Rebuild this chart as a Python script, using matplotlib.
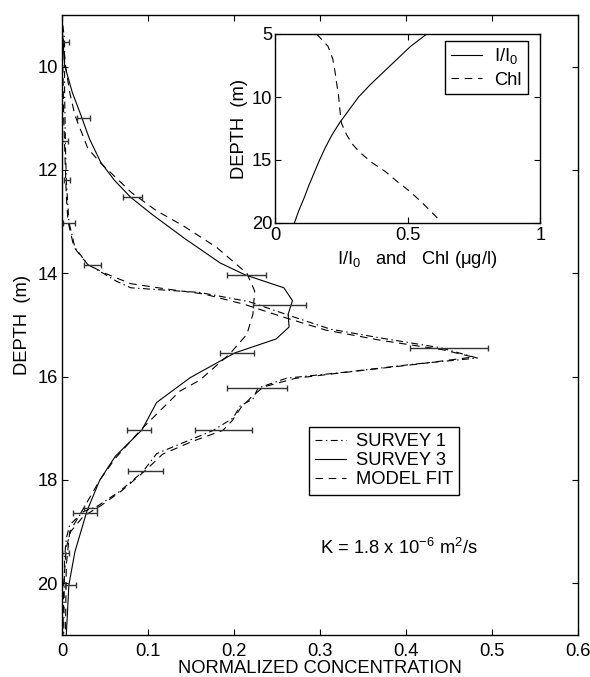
import matplotlib
matplotlib.use("Agg")
import matplotlib.pyplot as plt
import numpy as np

plt.rcParams['font.family'] = ['Liberation Sans', 'DejaVu Sans']
plt.rcParams['mathtext.fontset'] = 'custom'
plt.rcParams['mathtext.rm'] = 'Liberation Sans'
plt.rcParams['mathtext.it'] = 'Liberation Sans'
plt.rcParams['lines.scale_dashes'] = False

# ---------------- data ----------------
# Survey 1 (dash-dot)
s1_depth = [9.2, 9.5, 10.5, 11.5, 12.2, 13.0, 13.5, 13.83, 14.0, 14.15, 14.28, 14.37, 14.55,
            14.82, 15.08, 15.25, 15.44, 15.64, 15.76, 15.91, 16.03, 16.22, 16.43, 16.57, 16.8,
            17.04, 17.25, 17.49, 17.84, 18.22, 18.52, 18.61, 18.87, 19.13, 19.5, 21.0]
s1_conc = [0.001, 0.003, 0.003, 0.004, 0.005, 0.008, 0.015, 0.03, 0.048, 0.063, 0.08, 0.16, 0.218,
           0.265, 0.312, 0.37, 0.44, 0.483, 0.408, 0.331, 0.261, 0.228, 0.222, 0.207, 0.199,
           0.176, 0.145, 0.11, 0.094, 0.067, 0.04, 0.025, 0.009, 0.005, 0.003, 0.002]

# Survey 3 (solid)
s3_depth = [9.2, 9.97, 10.5, 10.94, 11.4, 11.85, 12.2, 12.53, 12.85, 13.33, 13.8, 14.03, 14.28,
            14.53, 14.79, 15.04, 15.27, 15.54, 16.02, 16.5, 17.03, 17.54, 18.0, 18.6, 19.39,
            20.03, 21.0]
s3_conc = [0.0, 0.003, 0.012, 0.022, 0.032, 0.045, 0.061, 0.08, 0.104, 0.143, 0.184, 0.213, 0.258,
           0.268, 0.263, 0.264, 0.249, 0.201, 0.149, 0.11, 0.093, 0.062, 0.044, 0.029, 0.015,
           0.008, 0.005]

# Model fit for survey 1 (dashed, narrow)
m1_depth = [9.2, 10.0, 11.0, 12.0, 12.5, 13.0, 13.5, 13.83, 14.0, 14.2, 14.3, 14.4, 14.6, 14.85,
            15.1, 15.3, 15.48, 15.62, 15.76, 15.9, 16.03, 16.2, 16.4, 16.6, 16.85, 17.04, 17.25,
            17.5, 17.8, 18.2, 18.5, 18.7, 19.0, 19.3, 20.0, 21.0]
m1_conc = [0.0, 0.001, 0.002, 0.004, 0.005, 0.007, 0.014, 0.03, 0.05, 0.08, 0.12, 0.165, 0.212,
           0.258, 0.307, 0.372, 0.443, 0.478, 0.412, 0.338, 0.272, 0.234, 0.22, 0.208, 0.198,
           0.187, 0.152, 0.117, 0.098, 0.07, 0.045, 0.025, 0.01, 0.005, 0.002, 0.001]

# Model fit for survey 3 (dashed, broad)
m3_depth = [9.2, 9.97, 10.5, 10.94, 11.58, 11.85, 12.44, 12.79, 13.08, 13.5, 14.0, 14.34, 14.79,
            15.18, 15.56, 16.07, 16.28, 17.04, 17.58, 18.0, 18.55, 19.0, 19.64, 21.0]
m3_conc = [0.0, 0.004, 0.009, 0.015, 0.03, 0.044, 0.081, 0.11, 0.141, 0.18, 0.215, 0.224, 0.222,
           0.215, 0.195, 0.16, 0.137, 0.091, 0.062, 0.044, 0.025, 0.009, 0.005, 0.004]

# Error bars (depth, centre, half-width)
e1_depth = [11.43, 12.2, 13.02, 13.83, 14.62, 15.44, 16.22, 17.04, 17.83, 18.55, 19.42]
e1_conc = [0.0035, 0.006, 0.008, 0.035, 0.253, 0.45, 0.227, 0.188, 0.097, 0.033, 0.004]
e1_err = [0.003, 0.0035, 0.007, 0.01, 0.031, 0.045, 0.035, 0.033, 0.02, 0.008, 0.004]

e3_depth = [9.52, 11.0, 12.53, 14.03, 15.54, 17.04, 18.64, 20.03]
e3_conc = [0.004, 0.025, 0.082, 0.2145, 0.2035, 0.0895, 0.0265, 0.01]
e3_err = [0.004, 0.0075, 0.011, 0.0227, 0.02, 0.014, 0.014, 0.0065]

# Inset: light and chlorophyll
light_depth = [5, 6, 7, 8, 9, 10, 11, 12, 13, 14, 15, 16, 17, 18, 19, 20]
light_val = [0.572, 0.51, 0.46, 0.41, 0.36, 0.315, 0.28, 0.245, 0.215, 0.19, 0.168, 0.148,
             0.128, 0.11, 0.09, 0.073]
chl_depth = [5.0, 5.98, 7.0, 7.96, 9.0, 9.8, 11.1, 12.06, 13.0, 13.7, 14.4, 15.2, 15.9, 16.7,
             17.5, 18.5, 19.6]
chl_val = [0.157, 0.2, 0.218, 0.226, 0.233, 0.239, 0.245, 0.25, 0.27, 0.29, 0.32, 0.365, 0.415,
           0.46, 0.509, 0.56, 0.612]

# ---------------- figure ----------------
FS = 13.2
fig = plt.figure(figsize=(5.9, 6.77), dpi=100)
ax = fig.add_axes([62/590, 1 - 635/677, 516/590, 620/677])

lw = 0.8
dashdot = (0, (5, 2.5, 1, 2.5))
dashed = (0, (5.5, 4))

ax.plot(s1_conc, s1_depth, color='black', lw=lw, linestyle=dashdot, label='SURVEY 1')
ax.plot(s3_conc, s3_depth, color='black', lw=lw, linestyle='-', label='SURVEY 3')
ax.plot(m3_conc, m3_depth, color='black', lw=lw, linestyle=dashed, label='MODEL FIT')
ax.plot(m1_conc, m1_depth, color='black', lw=lw, linestyle=dashed)

ax.errorbar(e1_conc, e1_depth, xerr=e1_err, fmt='none', ecolor='#333333', elinewidth=1.0,
            capsize=2.5, capthick=1.0)
ax.errorbar(e3_conc, e3_depth, xerr=e3_err, fmt='none', ecolor='#333333', elinewidth=1.0,
            capsize=2.5, capthick=1.0)

ax.set_xlim(0, 0.6)
ax.set_ylim(21, 9)
ax.set_xticks([0, 0.1, 0.2, 0.3, 0.4, 0.5, 0.6])
ax.set_xticklabels(['0', '0.1', '0.2', '0.3', '0.4', '0.5', '0.6'])
ax.set_yticks([10, 12, 14, 16, 18, 20])
ax.tick_params(direction='in', top=True, right=True, length=4, width=0.8,
               labelsize=FS)
ax.tick_params(axis='x', pad=6)
ax.tick_params(axis='y', pad=3)
for s in ax.spines.values():
    s.set_linewidth(1.0)
ax.set_xlabel('NORMALIZED CONCENTRATION', fontsize=FS, labelpad=0)
ax.set_ylabel('DEPTH  (m)', fontsize=FS, labelpad=5)

ax.text(0.3, 19.31, r'K = 1.8 x 10$^{-6}$ m$^{2}$/s', fontsize=FS, va='center', ha='left')

leg = ax.legend(loc='upper left', bbox_to_anchor=(309/590, 1 - 427/677),
                bbox_transform=fig.transFigure, fancybox=False, edgecolor='black',
                framealpha=1, fontsize=FS, handlelength=1.65, borderaxespad=0,
                borderpad=0.35, labelspacing=0.1, handletextpad=0.55)
leg.get_frame().set_linewidth(1.0)

# ---------------- inset ----------------
ins = fig.add_axes([275/590, 1 - 223/677, 265.3/590, 189/677])
ins.plot(light_val, light_depth, color='black', lw=lw, linestyle='-', label=r'I/I$_0$')
ins.plot(chl_val, chl_depth, color='black', lw=lw, linestyle=dashed, label='Chl')
ins.set_xlim(0, 1)
ins.set_ylim(20, 5)
ins.set_xticks([0, 0.5, 1])
ins.set_xticklabels(['0', '0.5', '1'])
ins.set_yticks([5, 10, 15, 20])
ins.tick_params(direction='in', top=True, right=True, length=4, width=0.8,
                labelsize=FS)
ins.tick_params(axis='x', pad=3)
ins.tick_params(axis='y', pad=2)
for s in ins.spines.values():
    s.set_linewidth(1.0)
ins.set_xlabel(r'I/I$_0$   and   Chl ($\mu$g/l)', fontsize=FS)
ins.xaxis.set_label_coords(0.535, -0.135, transform=ins.transAxes)
ins.xaxis.label.set_va('top')
ins.set_ylabel('DEPTH  (m)', fontsize=FS, labelpad=3)
leg2 = ins.legend(loc='upper left', bbox_to_anchor=(445/590, 1 - 40.7/677),
                  bbox_transform=fig.transFigure, fancybox=False, edgecolor='black',
                  framealpha=1, fontsize=FS, handlelength=1.7, borderaxespad=0,
                  borderpad=0.3, labelspacing=0.3, handletextpad=0.7)
leg2.get_frame().set_linewidth(1.0)

fig.savefig('out.png', dpi=100)
